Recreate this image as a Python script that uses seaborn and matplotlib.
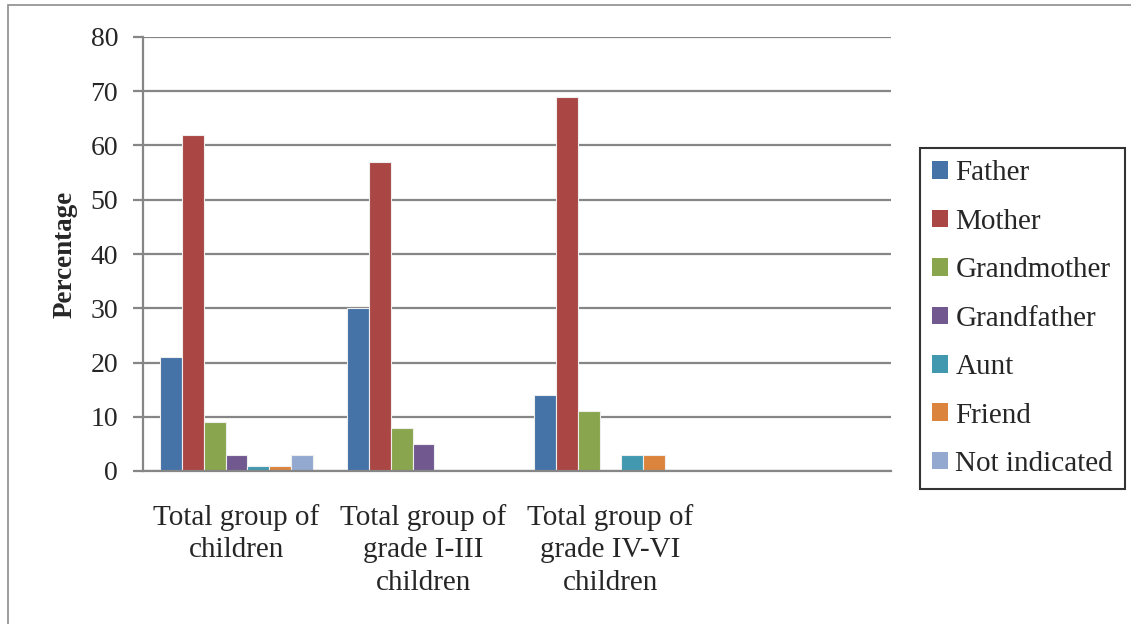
import matplotlib
matplotlib.use("Agg")
import matplotlib.pyplot as plt
import matplotlib.patches as mpatches
import seaborn as sns
import pandas as pd

groups = ["Total group of\nchildren",
          "Total group of\ngrade I-III\nchildren",
          "Total group of\ngrade IV-VI\nchildren"]
persons = ["Father", "Mother", "Grandmother", "Grandfather", "Aunt", "Friend", "Not indicated"]
father = [21, 30, 14]
mother = [62, 57, 69]
grandmother = [9, 8, 11]
grandfather = [3, 5, 0]
aunt = [1, 0, 3]
friend = [1, 0, 3]
not_indicated = [3, 0, 0]
colors = ["#4572A7", "#AA4643", "#89A54E", "#71588F", "#4198AF", "#DB843D", "#93A9CF"]
y_ticks = [0, 10, 20, 30, 40, 50, 60, 70, 80]

series = [father, mother, grandmother, grandfather, aunt, friend, not_indicated]
rows = []
for name, vals in zip(persons, series):
    for g, v in zip(groups, vals):
        rows.append({"group": g, "person": name, "value": v})
df = pd.DataFrame(rows)

sns.set_theme(style="white")
plt.rcParams["font.family"] = ["Liberation Serif", "DejaVu Serif"]

fig = plt.figure(figsize=(11.31, 6.24), dpi=100)
ax = fig.add_axes([143 / 1131, 1 - 471 / 624, (891 - 143) / 1131, (471 - 37) / 624])

sns.barplot(data=df, x="group", y="value", hue="person", order=groups,
            hue_order=persons, palette=colors, saturation=1, width=0.82, gap=0,
            edgecolor="#eeeeee", linewidth=0.8, ax=ax, legend=False)

ax.set_xlim(-0.5, 3.5)
ax.set_ylim(0, 80)
ax.set_yticks(y_ticks)
ax.set_yticklabels([str(t) for t in y_ticks], fontsize=20)
ax.yaxis.grid(True, color="#868686", linewidth=1.6)
ax.set_axisbelow(True)
ax.tick_params(axis="y", which="both", left=True, length=7, width=1.6,
               color="#868686", pad=11)
ax.tick_params(axis="x", length=0, pad=23.5, labelsize=21)
for s in ["top", "right"]:
    ax.spines[s].set_visible(False)
for s in ["left", "bottom"]:
    ax.spines[s].set_color("#868686")
    ax.spines[s].set_linewidth(1.6)
ax.set_xlabel("")
ax.set_ylabel("Percentage", fontsize=19.5, fontweight="bold", labelpad=9.5)
for lbl in ax.get_xticklabels():
    lbl.set_linespacing(1.34)

handles = [mpatches.Patch(facecolor=c, edgecolor="none", label=p)
           for p, c in zip(persons, colors)]
leg = fig.legend(handles=handles, loc="upper left",
                 bbox_to_anchor=(920 / 1131, 1 - 148 / 624),
                 fontsize=21, frameon=True, fancybox=False,
                 handlelength=0.55, handleheight=0.55, handletextpad=0.24,
                 labelspacing=0.77, borderpad=0.42, borderaxespad=0)
leg.get_frame().set_edgecolor("black")
leg.get_frame().set_linewidth(1.5)

# outer chart border
fig.patches.append(mpatches.Rectangle((8 / 1131, -0.1), 1.2, 1 - 5 / 624 + 0.1,
                                      transform=fig.transFigure, fill=False,
                                      edgecolor="#8c8c8c", linewidth=1.2))

fig.savefig("out.png", dpi=100)
